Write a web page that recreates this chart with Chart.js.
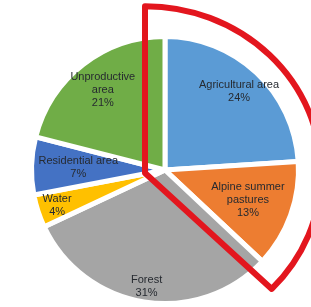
<!DOCTYPE html>
<html>
<head>
<meta charset="utf-8">
<script src="https://cdn.jsdelivr.net/npm/chart.js@4.4.0/dist/chart.umd.min.js"></script>
<style>
  body { margin: 0; background: #fff; }
  #wrap { width: 311px; height: 307px; }
</style>
</head>
<body>
<div id="wrap"><canvas id="landUse" width="311" height="307"></canvas></div>
<script>
const categories = ['Agricultural area', 'Alpine summer pastures', 'Forest', 'Water', 'Residential area', 'Unproductive area'];
const shares = [24, 13, 31, 4, 7, 21];
const labelLines = [['Agricultural area'], ['Alpine summer', 'pastures'], ['Forest'], ['Water'], ['Residential area'], ['Unproductive', 'area']];

const sliceColors = ['#5b9bd5', '#ed7d31', '#a5a5a5', '#ffc000', '#4472c4', '#70ad47'];
// how far out each label sits (fraction of radius)
const labelRadius = [0.81, 0.66, 0.88, 0.85, 0.65, 0.76];

// labels drawn inside the slices
const sliceLabels = {
    id: 'sliceLabels',
    afterDatasetsDraw(chart) {
        const ctx = chart.ctx;
        const arcs = chart.getDatasetMeta(0).data;
        ctx.save();
        ctx.font = '11px "Liberation Sans", Arial, sans-serif';
        ctx.fillStyle = '#262a30';
        ctx.textAlign = 'center';
        ctx.textBaseline = 'middle';
        arcs.forEach((arc, i) => {
            const mid = (arc.startAngle + arc.endAngle) / 2;
            const r = arc.outerRadius * labelRadius[i];
            const x = arc.x + Math.cos(mid) * r;
            const y = arc.y + Math.sin(mid) * r;
            const lines = labelLines[i].concat([shares[i] + '%']);
            const top = y - (lines.length - 1) * 13 / 2;
            lines.forEach((t, k) => ctx.fillText(t, x, top + k * 13));
        });
        ctx.restore();
    }
};

// red hand-drawn highlight around the two farming slices
const highlight = {
    id: 'highlight',
    afterDraw(chart) {
        const arc = chart.getDatasetMeta(0).data[0];
        const ax = arc.x - 20;
        const ay = arc.y + 3;
        const ry = arc.outerRadius * 1.25;
        const rx = arc.outerRadius * 1.32;
        const ctx = chart.ctx;
        ctx.save();
        ctx.strokeStyle = '#e3161e';
        ctx.lineWidth = 6;
        ctx.lineJoin = 'round';
        ctx.beginPath();
        ctx.moveTo(ax, ay);
        ctx.lineTo(ax, ay - ry);
        ctx.ellipse(ax, ay, rx, ry, 0, -Math.PI / 2, 44 * Math.PI / 180);
        ctx.closePath();
        ctx.stroke();
        ctx.restore();
    }
};

const ctx = document.getElementById('landUse').getContext('2d');
new Chart(ctx, {
    type: 'pie',
    data: {
        labels: categories,
        datasets: [{
            data: shares,
            backgroundColor: sliceColors,
            borderColor: '#ffffff',
            borderWidth: 5
        }]
    },
    options: {
        responsive: false,
        animation: false,
        layout: { padding: { left: 29, right: 10, top: 34, bottom: 1 } },
        plugins: {
            legend: { display: false },
            tooltip: { enabled: false }
        }
    },
    plugins: [sliceLabels, highlight]
});
</script>
</body>
</html>
